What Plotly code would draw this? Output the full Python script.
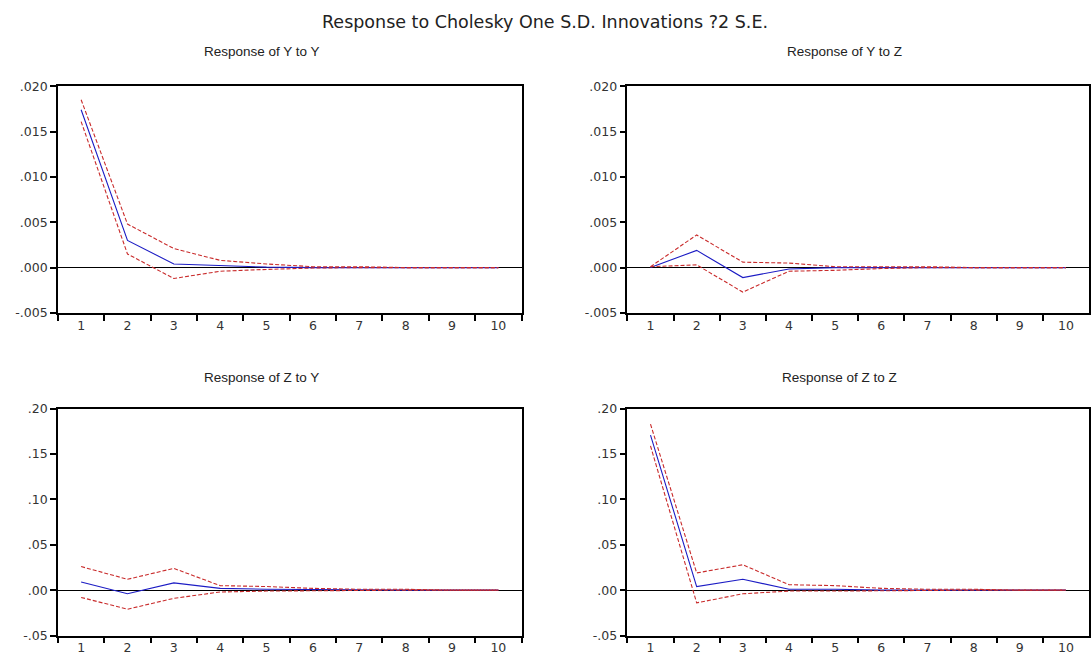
import plotly.graph_objects as go

periods = ["1", "2", "3", "4", "5", "6", "7", "8", "9", "10"]

# Response of Y to Y
yy_resp  = [0.0174, 0.0030, 0.0004, 0.0002, 0.00005, 0.0, 0.0, 0.0, 0.0, 0.0]
yy_upper = [0.0185, 0.0048, 0.0021, 0.0008, 0.0004, 0.0001, 0.0001, 0.0, 0.0, 0.0]
yy_lower = [0.0161, 0.0015, -0.0012, -0.0004, -0.0002, -0.00005, 0.0, 0.0, 0.0, 0.0]

# Response of Y to Z
yz_resp  = [0.0, 0.0019, -0.0011, -0.00015, 0.0, 0.0, 0.0, 0.0, 0.0, 0.0]
yz_upper = [0.0001, 0.0036, 0.0006, 0.0005, 0.0001, 0.0001, 0.0001, 0.0, 0.0, 0.0]
yz_lower = [0.0001, 0.0003, -0.0027, -0.0004, -0.0003, -0.0001, 0.0, 0.0, 0.0, 0.0]

# Response of Z to Y
zy_resp  = [0.009, -0.004, 0.008, 0.002, 0.001, 0.0005, 0.0, 0.0, 0.0, 0.0]
zy_upper = [0.026, 0.012, 0.024, 0.005, 0.004, 0.002, 0.001, 0.001, 0.0, 0.0]
zy_lower = [-0.008, -0.021, -0.009, -0.002, -0.001, -0.0005, 0.0, 0.0, 0.0, 0.0]

# Response of Z to Z
zz_resp  = [0.171, 0.004, 0.012, 0.001, 0.001, 0.0, 0.0, 0.0, 0.0, 0.0]
zz_upper = [0.183, 0.019, 0.028, 0.006, 0.005, 0.002, 0.001, 0.001, 0.0, 0.0]
zz_lower = [0.159, -0.014, -0.004, -0.001, -0.001, -0.0005, 0.0, 0.0, 0.0, 0.0]

top_ticks = [-0.005, 0.0, 0.005, 0.010, 0.015, 0.020]
top_ticktext = ["-.005", ".000", ".005", ".010", ".015", ".020"]
bot_ticks = [-0.05, 0.0, 0.05, 0.10, 0.15, 0.20]
bot_ticktext = ["-.05", ".00", ".05", ".10", ".15", ".20"]

titles = ["Response of Y to Y", "Response of Y to Z", "Response of Z to Y", "Response of Z to Z"]
main_title = "Response to Cholesky One S.D. Innovations ?2 S.E."

W, H = 1091, 665
BLUE = "#1c1cc4"
RED = "#c92b2b"
FONT = "Liberation Sans, Arial, sans-serif"
WIDE = "DejaVu Sans, Verdana, sans-serif"

fig = go.Figure()

panels = [
    (yy_resp, yy_upper, yy_lower, 1, (58, 522), (80, 312), top_ticks, top_ticktext),
    (yz_resp, yz_upper, yz_lower, 2, (628, 1090), (80, 312), top_ticks, top_ticktext),
    (zy_resp, zy_upper, zy_lower, 3, (58, 522), (410, 642), bot_ticks, bot_ticktext),
    (zz_resp, zz_upper, zz_lower, 4, (628, 1090), (410, 642), bot_ticks, bot_ticktext),
]

layout_axes = {}
for resp, up, lo, i, (x0, x1), (y0, y1), tv, tt in panels:
    xa = "x" if i == 1 else f"x{i}"
    ya = "y" if i == 1 else f"y{i}"
    for vals, color, dash in [(resp, BLUE, "solid"), (up, RED, "4px,2px"), (lo, RED, "4px,2px")]:
        fig.add_trace(go.Scatter(x=periods, y=vals, mode="lines", xaxis=xa, yaxis=ya,
                                 line=dict(color=color, width=1.1, dash=dash),
                                 showlegend=False, hoverinfo="skip"))
    xkey = "xaxis" if i == 1 else f"xaxis{i}"
    ykey = "yaxis" if i == 1 else f"yaxis{i}"
    layout_axes[xkey] = dict(
        domain=[x0 / W, x1 / W], anchor=ya, type="category",
        tickson="boundaries", ticks="outside", ticklen=6, tickwidth=1.5, tickcolor="black",
        showline=True, linecolor="black", linewidth=1.5, mirror=True,
        showgrid=False, zeroline=False,
        tickfont=dict(family=WIDE, size=12.5, color="#333333"),
        range=[-0.5, 9.5], fixedrange=True,
    )
    layout_axes[ykey] = dict(
        domain=[1 - y1 / H, 1 - y0 / H], anchor=xa,
        range=[tv[0], tv[-1]], tickvals=tv, ticktext=tt,
        ticks="outside", ticklen=6, tickwidth=1.5, tickcolor="black",
        showline=True, linecolor="black", linewidth=1.5, mirror=True,
        showgrid=False, zeroline=True, zerolinecolor="black", zerolinewidth=1.2,
        tickfont=dict(family=WIDE, size=12.5, color="#333333"),
        fixedrange=True,
    )

annotations = [
    dict(text=main_title, x=545 / W, y=1 - 14 / H, xref="paper", yref="paper",
         showarrow=False, font=dict(family=WIDE, size=17.5, color="#222222"),
         xanchor="center", yanchor="middle"),
]
for t, (cx, cy) in zip(titles, [(262, 45), (845, 45), (262, 378), (840, 378)]):
    annotations.append(dict(text=t, x=cx / W, y=1 - cy / H, xref="paper", yref="paper",
                            showarrow=False, font=dict(family=FONT, size=13.5, color="#222222"),
                            xanchor="center", yanchor="middle"))

fig.update_layout(
    width=W, height=H,
    margin=dict(l=0, r=0, t=0, b=0),
    paper_bgcolor="white", plot_bgcolor="white",
    annotations=annotations,
    **layout_axes,
)

fig.write_html("out.html", config={"displayModeBar": False})
